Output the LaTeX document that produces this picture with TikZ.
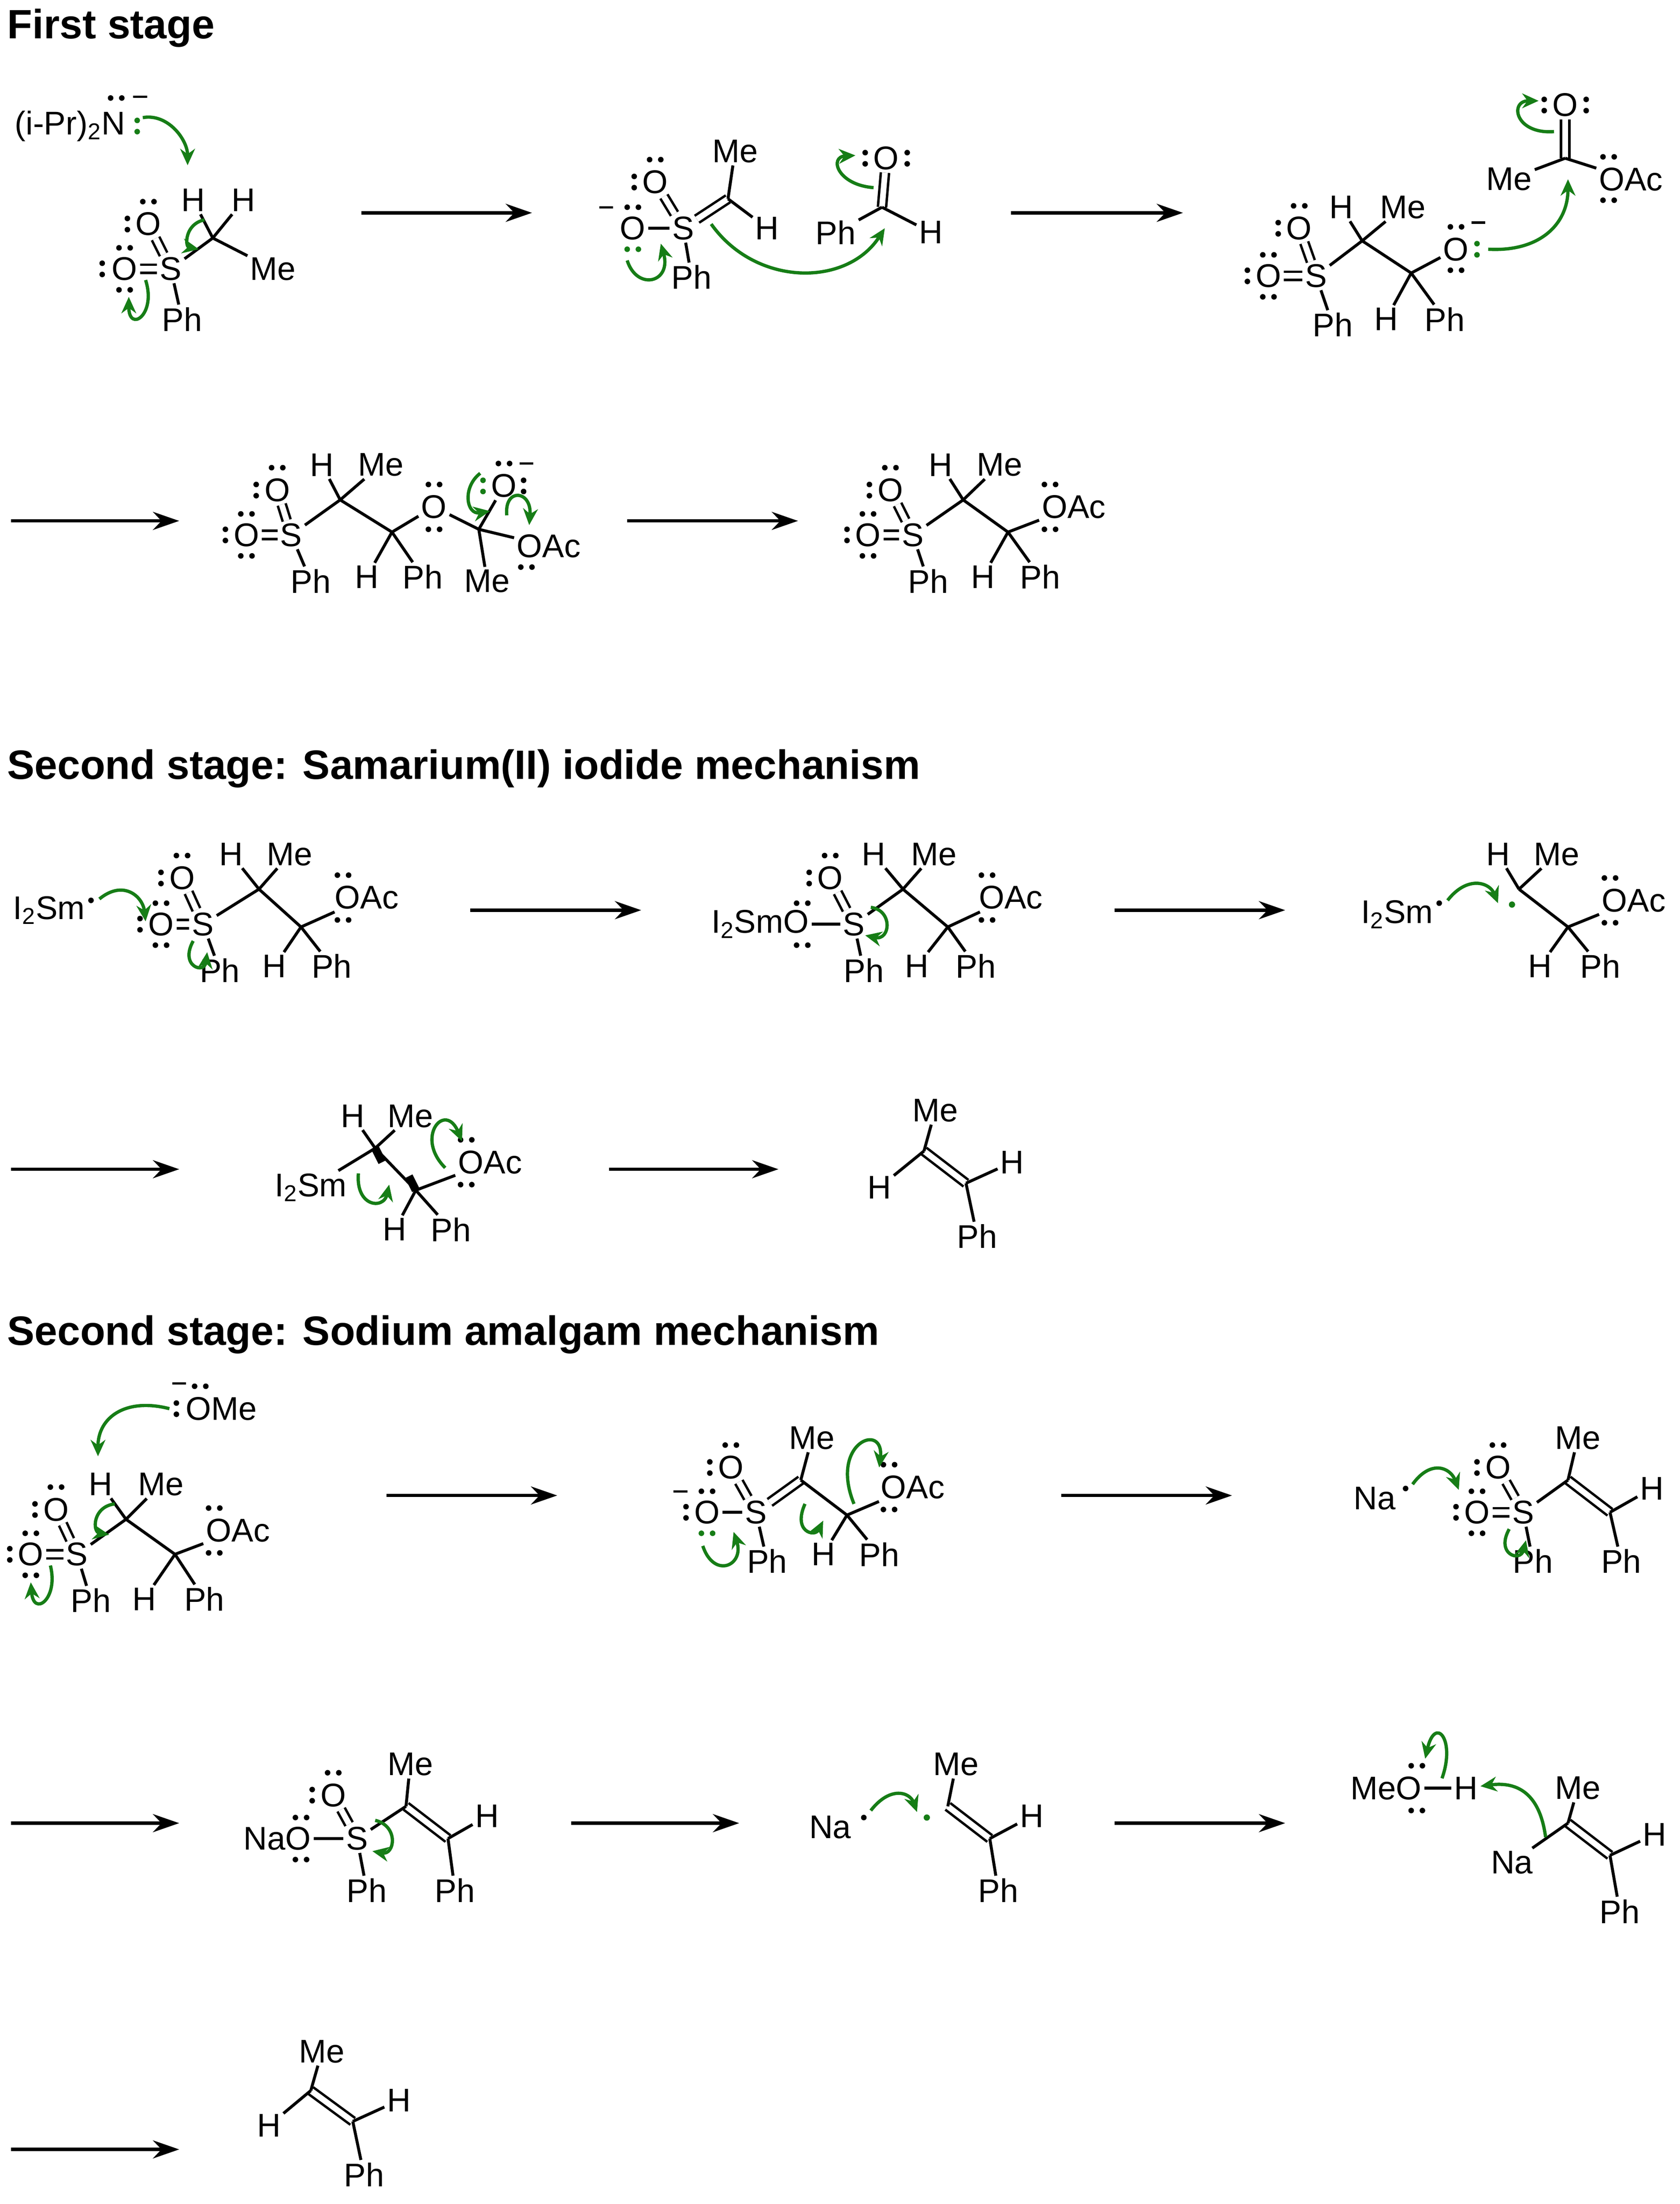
\documentclass[tikz,border=0pt]{standalone}
\usepackage{fontspec}
\setmainfont{Liberation Sans}
\usetikzlibrary{arrows.meta}
\definecolor{pushgreen}{RGB}{22,125,22}
\newcommand\chemf{\fontsize{20}{23}\selectfont}
\newcommand\lpv[2][black]{\fill[#1,shift={(#2)}] (0,-4) circle (1.7pt) (0,4) circle (1.7pt);}
\newcommand\lph[2][black]{\fill[#1,shift={(#2)}] (-4,0) circle (1.7pt) (4,0) circle (1.7pt);}
\newcommand\minus[1]{\draw[line width=1.4pt,shift={(#1)}] (-5,0) -- (5,0);}
\begin{document}
\begin{tikzpicture}
  [x=0.03cm,y=-0.03cm,
   atom/.style={inner sep=1.5pt,font=\chemf},
   title/.style={anchor=west,inner sep=0pt,font=\fontsize{25}{28}\selectfont\bfseries},
   bond/.style={line width=1.8pt},
   dbl/.style={line width=1.5pt,double distance=3.5pt,double=white},
   rxn/.style={line width=2pt,-{Stealth[length=16pt,width=11pt]}},
   push/.style={draw=pushgreen,line width=2pt,-{Stealth[length=10pt,width=9pt]}}]
  \useasboundingbox (0,0) rectangle (1200,1574);

  % titles
  \node[title] (t1) at (5,20) {First stage};
  \node[title] (t2) at (5,549) {Second stage: Samarium(II) iodide mechanism};
  \node[title] (t3) at (5,953) {Second stage: Sodium amalgam mechanism};

  % reaction arrows
  \foreach \xa/\xb/\y in {258/380/152, 722/845/152, 8/128/372, 448/570/372,
    336/458/650, 796/918/650, 8/128/835, 435/556/835,
    276/398/1068, 758/880/1068, 8/128/1302, 408/528/1302, 796/918/1302, 8/128/1535}
    \draw[rxn] (\xa,\y) -- (\xb,\y);

  %% first stage, row 1
  \node[atom] (lda) at (50,90) {(i-Pr)\textsubscript{2}N};
  \lph{83,70} \minus{100,69} \lpv[pushgreen]{98,90}
  \draw[push] (102,84) to[out=10,in=90] (134,118);
  \node[atom] (s1) at (122,192) {S};
  \node[atom] (o1a) at (106,160) {O};
  \node[atom] (o1b) at (89,192) {O};
  \node[atom] (ph1) at (130,228) {Ph};
  \coordinate (c1) at (152,170);
  \node[atom] (h1a) at (138,143) {H};
  \node[atom] (h1b) at (174,143) {H};
  \node[atom] (me1) at (195,192) {Me};
  \draw[dbl] (s1) -- (o1a); \draw[dbl] (s1) -- (o1b);
  \draw[bond] (s1) -- (ph1) (s1) -- (c1) (c1) -- (h1a) (c1) -- (h1b) (c1) -- (me1);
  \lpv{91,160} \lph{106,144} \lpv{73,192} \lph{89,177} \lph{89,207}
  \draw[push] (146,157) .. controls (132,160) and (132,176) .. (142,178);
  \draw[push] (104,200) .. controls (112,225) and (92,238) .. (92,212);

  \node[atom] (o2a) at (468,130) {O};
  \node[atom] (o2b) at (452,163) {O};
  \node[atom] (s2) at (488,163) {S};
  \node[atom] (ph2) at (494,198) {Ph};
  \coordinate (c2) at (520,142);
  \node[atom] (me2) at (525,108) {Me};
  \node[atom] (h2) at (548,163) {H};
  \draw[dbl] (s2) -- (o2a); \draw[dbl] (s2) -- (c2);
  \draw[bond] (s2) -- (o2b) (s2) -- (ph2) (c2) -- (me2) (c2) -- (h2);
  \lpv{453,130} \lph{468,114} \minus{433,148} \lph{452,148} \lph[pushgreen]{452,178}
  \node[atom] (o2c) at (633,113) {O};
  \coordinate (c2b) at (630,148);
  \node[atom] (ph2b) at (597,166) {Ph};
  \node[atom] (h2b) at (665,166) {H};
  \draw[dbl] (c2b) -- (o2c); \draw[bond] (c2b) -- (ph2b) (c2b) -- (h2b);
  \lpv{618,113} \lpv{648,113}
  \draw[push] (448,186) .. controls (455,208) and (480,202) .. (472,174);
  \draw[push] (508,160) .. controls (540,205) and (605,205) .. (632,163);
  \draw[push] (624,134) .. controls (598,132) and (592,112) .. (611,111);

  \node[atom] (o3a) at (928,163) {O};
  \node[atom] (o3b) at (906,197) {O};
  \node[atom] (s3) at (940,197) {S};
  \node[atom] (ph3) at (952,232) {Ph};
  \coordinate (c3a) at (973,172);
  \node[atom] (h3a) at (958,148) {H};
  \node[atom] (me3) at (1002,148) {Me};
  \coordinate (c3b) at (1008,195);
  \node[atom] (h3b) at (990,228) {H};
  \node[atom] (ph3b) at (1032,228) {Ph};
  \node[atom] (o3c) at (1040,178) {O};
  \draw[dbl] (s3) -- (o3a); \draw[dbl] (s3) -- (o3b);
  \draw[bond] (s3) -- (ph3) (s3) -- (c3a) (c3a) -- (h3a) (c3a) -- (me3) (c3a) -- (c3b)
    (c3b) -- (h3b) (c3b) -- (ph3b) (c3b) -- (o3c);
  \lpv{913,163} \lph{928,147} \lpv{891,197} \lph{906,182} \lph{906,212}
  \lph{1040,162} \minus{1056,159} \lph{1040,193} \lpv[pushgreen]{1055,178}
  \coordinate (c3c) at (1118,113);
  \node[atom] (o3d) at (1118,75) {O};
  \node[atom] (me3b) at (1078,128) {Me};
  \node[atom] (oac3) at (1165,128) {OAc};
  \draw[dbl] (c3c) -- (o3d); \draw[bond] (c3c) -- (me3b) (c3c) -- (oac3);
  \lpv{1103,75} \lpv{1133,75} \lph{1149,112} \lph{1149,143}
  \draw[push] (1063,178) .. controls (1100,180) and (1120,160) .. (1120,128);
  \draw[push] (1110,94) .. controls (1082,96) and (1078,72) .. (1099,72);

  %% first stage, row 2
  \node[atom] (o4a) at (198,350) {O};
  \node[atom] (o4b) at (176,382) {O};
  \node[atom] (s4) at (208,382) {S};
  \node[atom] (ph4) at (222,415) {Ph};
  \coordinate (c4a) at (243,357);
  \node[atom] (h4a) at (230,332) {H};
  \node[atom] (me4) at (272,332) {Me};
  \coordinate (c4b) at (280,380);
  \node[atom] (h4b) at (262,412) {H};
  \node[atom] (ph4b) at (302,412) {Ph};
  \node[atom] (o4c) at (310,362) {O};
  \coordinate (c4c) at (342,378);
  \node[atom] (o4d) at (360,347) {O};
  \node[atom] (oac4) at (392,390) {OAc};
  \node[atom] (me4b) at (348,415) {Me};
  \draw[dbl] (s4) -- (o4a); \draw[dbl] (s4) -- (o4b);
  \draw[bond] (s4) -- (ph4) (s4) -- (c4a) (c4a) -- (h4a) (c4a) -- (me4) (c4a) -- (c4b)
    (c4b) -- (h4b) (c4b) -- (ph4b) (c4b) -- (o4c) (o4c) -- (c4c) (c4c) -- (o4d)
    (c4c) -- (oac4) (c4c) -- (me4b);
  \lpv{183,350} \lph{198,334} \lpv{161,382} \lph{176,367} \lph{176,397}
  \lph{310,346} \lph{310,378} \lpv[pushgreen]{345,347} \lph{360,331} \minus{376,331}
  \lpv{374,347} \lph{376,405}
  \draw[push] (343,338) .. controls (330,348) and (333,368) .. (350,365);
  \draw[push] (362,368) .. controls (360,348) and (380,350) .. (378,375);

  \node[atom] (o5a) at (636,350) {O};
  \node[atom] (o5b) at (620,382) {O};
  \node[atom] (s5) at (652,382) {S};
  \node[atom] (ph5) at (663,415) {Ph};
  \coordinate (c5a) at (688,357);
  \node[atom] (h5a) at (672,332) {H};
  \node[atom] (me5) at (714,332) {Me};
  \coordinate (c5b) at (720,380);
  \node[atom] (h5b) at (702,412) {H};
  \node[atom] (ph5b) at (743,412) {Ph};
  \node[atom] (oac5) at (767,362) {OAc};
  \draw[dbl] (s5) -- (o5a); \draw[dbl] (s5) -- (o5b);
  \draw[bond] (s5) -- (ph5) (s5) -- (c5a) (c5a) -- (h5a) (c5a) -- (me5) (c5a) -- (c5b)
    (c5b) -- (h5b) (c5b) -- (ph5b) (c5b) -- (oac5);
  \lpv{621,350} \lph{636,334} \lpv{605,382} \lph{620,367} \lph{620,397}
  \lph{750,346} \lph{750,378}

  %% samarium, row 3
  \node[atom] (sm1) at (35,650) {I\textsubscript{2}Sm};
  \fill (65,643) circle (1.7pt);
  \draw[push] (71,642) .. controls (88,628) and (102,640) .. (104,658);
  \node[atom] (o6b) at (115,660) {O};
  \node[atom] (s6) at (145,660) {S};
  \node[atom] (o6a) at (130,627) {O};
  \node[atom] (ph6) at (157,693) {Ph};
  \coordinate (c6a) at (185,635);
  \node[atom] (h6a) at (165,610) {H};
  \node[atom] (me6) at (207,610) {Me};
  \coordinate (c6b) at (215,662);
  \node[atom] (h6b) at (196,690) {H};
  \node[atom] (ph6b) at (237,690) {Ph};
  \node[atom] (oac6) at (262,641) {OAc};
  \draw[dbl] (s6) -- (o6a); \draw[dbl] (s6) -- (o6b);
  \draw[bond] (s6) -- (ph6) (s6) -- (c6a) (c6a) -- (h6a) (c6a) -- (me6) (c6a) -- (c6b)
    (c6b) -- (h6b) (c6b) -- (ph6b) (c6b) -- (oac6);
  \lpv{115,627} \lph{130,611} \lpv{100,660} \lph{115,645} \lph{115,675}
  \lph{245,625} \lph{245,657}
  \draw[push] (138,672) .. controls (128,690) and (146,696) .. (148,680);

  \node[atom] (sm2) at (543,660) {I\textsubscript{2}SmO};
  \node[atom] (s7) at (610,660) {S};
  \node[atom] (o7a) at (593,627) {O};
  \node[atom] (ph7) at (617,693) {Ph};
  \coordinate (c7a) at (645,635);
  \node[atom] (h7a) at (624,610) {H};
  \node[atom] (me7) at (667,610) {Me};
  \coordinate (c7b) at (677,662);
  \node[atom] (h7b) at (655,690) {H};
  \node[atom] (ph7b) at (697,690) {Ph};
  \node[atom] (oac7) at (722,641) {OAc};
  \draw[dbl] (s7) -- (o7a);
  \draw[bond] (sm2) -- (s7) (s7) -- (ph7) (s7) -- (c7a) (c7a) -- (h7a) (c7a) -- (me7)
    (c7a) -- (c7b) (c7b) -- (h7b) (c7b) -- (ph7b) (c7b) -- (oac7);
  \lpv{578,627} \lph{593,611} \lph{573,645} \lph{573,675} \lph{705,625} \lph{705,657}
  \draw[push] (622,648) .. controls (638,650) and (636,672) .. (618,668);

  \node[atom] (sm3) at (998,653) {I\textsubscript{2}Sm};
  \fill (1028,645) circle (1.7pt);
  \draw[push] (1034,643) .. controls (1048,625) and (1064,630) .. (1070,645);
  \coordinate (c8a) at (1085,635);
  \fill[pushgreen] (1080,646) circle (1.9pt);
  \node[atom] (h8a) at (1070,610) {H};
  \node[atom] (me8) at (1112,610) {Me};
  \coordinate (c8b) at (1120,662);
  \node[atom] (h8b) at (1100,690) {H};
  \node[atom] (ph8b) at (1143,690) {Ph};
  \node[atom] (oac8) at (1167,643) {OAc};
  \draw[bond] (c8a) -- (h8a) (c8a) -- (me8) (c8a) -- (c8b) (c8b) -- (h8b) (c8b) -- (ph8b)
    (c8b) -- (oac8);
  \lph{1150,627} \lph{1150,659}

  %% samarium, row 4
  \node[atom] (sm4) at (222,848) {I\textsubscript{2}Sm};
  \coordinate (c9a) at (268,820);
  \node[atom] (h9a) at (252,797) {H};
  \node[atom] (me9) at (293,797) {Me};
  \coordinate (c9b) at (297,850);
  \node[atom] (h9b) at (282,878) {H};
  \node[atom] (ph9b) at (322,878) {Ph};
  \node[atom] (oac9) at (350,830) {OAc};
  \draw[bond] (sm4) -- (c9a) (c9a) -- (h9a) (c9a) -- (me9) (c9a) -- (c9b) (c9b) -- (h9b)
    (c9b) -- (ph9b) (c9b) -- (oac9);
  \draw[line width=5pt] (c9a) -- ++(5,10) (c9b) -- ++(-5,-10);
  \lph{333,814} \lph{333,846}
  \draw[push] (256,838) .. controls (254,862) and (274,864) .. (278,846);
  \draw[push] (318,834) .. controls (296,812) and (318,786) .. (330,815);

  \node[atom] (me10) at (668,793) {Me};
  \coordinate (c10a) at (660,822);
  \coordinate (c10b) at (690,845);
  \node[atom] (h10a) at (628,848) {H};
  \node[atom] (h10b) at (723,830) {H};
  \node[atom] (ph10) at (698,883) {Ph};
  \draw[dbl] (c10a) -- (c10b);
  \draw[bond] (c10a) -- (me10) (c10a) -- (h10a) (c10b) -- (h10b) (c10b) -- (ph10);

  %% sodium, row 5
  \node[atom] (ome) at (158,1006) {OMe};
  \minus{128,988} \lph{143,990} \lpv{126,1006}
  \draw[push] (121,1006) .. controls (90,998) and (70,1012) .. (70,1040);
  \node[atom] (o11b) at (22,1110) {O};
  \node[atom] (s11) at (55,1110) {S};
  \node[atom] (o11a) at (40,1078) {O};
  \node[atom] (ph11) at (65,1143) {Ph};
  \coordinate (c11a) at (90,1085);
  \node[atom] (h11a) at (72,1060) {H};
  \node[atom] (me11) at (115,1060) {Me};
  \coordinate (c11b) at (125,1110);
  \node[atom] (h11b) at (103,1142) {H};
  \node[atom] (ph11b) at (146,1142) {Ph};
  \node[atom] (oac11) at (170,1093) {OAc};
  \draw[dbl] (s11) -- (o11a); \draw[dbl] (s11) -- (o11b);
  \draw[bond] (s11) -- (ph11) (s11) -- (c11a) (c11a) -- (h11a) (c11a) -- (me11)
    (c11a) -- (c11b) (c11b) -- (h11b) (c11b) -- (ph11b) (c11b) -- (oac11);
  \lpv{25,1078} \lph{40,1062} \lpv{7,1110} \lph{22,1095} \lph{22,1125}
  \lph{153,1077} \lph{153,1109}
  \draw[push] (82,1074) .. controls (66,1076) and (66,1094) .. (78,1096);
  \draw[push] (36,1118) .. controls (42,1142) and (24,1155) .. (22,1130);

  \node[atom] (o12b) at (505,1080) {O};
  \node[atom] (s12) at (540,1080) {S};
  \node[atom] (o12a) at (522,1048) {O};
  \node[atom] (ph12) at (548,1115) {Ph};
  \coordinate (c12a) at (572,1057);
  \node[atom] (me12) at (580,1027) {Me};
  \coordinate (c12b) at (605,1082);
  \node[atom] (h12b) at (588,1110) {H};
  \node[atom] (ph12b) at (628,1110) {Ph};
  \node[atom] (oac12) at (652,1062) {OAc};
  \draw[dbl] (s12) -- (o12a); \draw[dbl] (s12) -- (c12a);
  \draw[bond] (s12) -- (o12b) (s12) -- (ph12) (c12a) -- (me12) (c12a) -- (c12b)
    (c12b) -- (h12b) (c12b) -- (ph12b) (c12b) -- (oac12);
  \lpv{507,1048} \lph{522,1032} \minus{486,1065} \lph{505,1065} \lpv{490,1080}
  \lph[pushgreen]{505,1095} \lph{635,1046} \lph{635,1078}
  \draw[push] (502,1104) .. controls (510,1128) and (532,1118) .. (524,1094);
  \draw[push] (575,1074) .. controls (566,1094) and (582,1098) .. (588,1086);
  \draw[push] (610,1074) .. controls (592,1030) and (632,1015) .. (628,1048);

  \node[atom] (na1) at (982,1070) {Na};
  \fill (1004,1063) circle (1.7pt);
  \draw[push] (1009,1060) .. controls (1022,1042) and (1036,1048) .. (1042,1064);
  \node[atom] (o13b) at (1055,1080) {O};
  \node[atom] (s13) at (1088,1080) {S};
  \node[atom] (o13a) at (1070,1048) {O};
  \node[atom] (ph13) at (1095,1115) {Ph};
  \coordinate (c13a) at (1120,1057);
  \node[atom] (me13) at (1127,1027) {Me};
  \coordinate (c13b) at (1150,1080);
  \node[atom] (h13b) at (1180,1063) {H};
  \node[atom] (ph13b) at (1158,1115) {Ph};
  \draw[dbl] (s13) -- (o13a); \draw[dbl] (s13) -- (o13b); \draw[dbl] (c13a) -- (c13b);
  \draw[bond] (s13) -- (ph13) (s13) -- (c13a) (c13a) -- (me13) (c13b) -- (h13b)
    (c13b) -- (ph13b);
  \lpv{1055,1048} \lph{1070,1032} \lpv{1040,1080} \lph{1055,1065} \lph{1055,1095}
  \draw[push] (1078,1092) .. controls (1068,1110) and (1086,1116) .. (1090,1100);

  %% sodium, row 6
  \node[atom] (nao) at (198,1313) {NaO};
  \node[atom] (s14) at (255,1313) {S};
  \node[atom] (o14a) at (238,1282) {O};
  \node[atom] (ph14) at (262,1350) {Ph};
  \coordinate (c14a) at (290,1290);
  \node[atom] (me14) at (293,1260) {Me};
  \coordinate (c14b) at (320,1313);
  \node[atom] (h14b) at (348,1297) {H};
  \node[atom] (ph14b) at (325,1350) {Ph};
  \draw[dbl] (s14) -- (o14a); \draw[dbl] (c14a) -- (c14b);
  \draw[bond] (nao) -- (s14) (s14) -- (ph14) (s14) -- (c14a) (c14a) -- (me14)
    (c14b) -- (h14b) (c14b) -- (ph14b);
  \lpv{223,1282} \lph{238,1266} \lph{215,1298} \lph{215,1328}
  \draw[push] (268,1300) .. controls (285,1304) and (282,1325) .. (266,1322);

  \node[atom] (na2) at (593,1305) {Na};
  \fill (617,1298) circle (1.7pt);
  \draw[push] (622,1293) .. controls (636,1275) and (650,1280) .. (655,1294);
  \fill[pushgreen] (662,1298) circle (1.9pt);
  \coordinate (c15a) at (677,1290);
  \node[atom] (me15) at (683,1260) {Me};
  \coordinate (c15b) at (707,1313);
  \node[atom] (h15b) at (737,1297) {H};
  \node[atom] (ph15b) at (713,1350) {Ph};
  \draw[dbl] (c15a) -- (c15b);
  \draw[bond] (c15a) -- (me15) (c15b) -- (h15b) (c15b) -- (ph15b);

  \node[atom] (meo) at (990,1277) {MeO};
  \node[atom] (h16) at (1047,1277) {H};
  \draw[bond] (meo) -- (h16);
  \lph{1012,1261} \lph{1012,1293}
  \draw[push] (1030,1270) .. controls (1040,1242) and (1025,1225) .. (1018,1256);
  \node[atom] (na3) at (1080,1330) {Na};
  \coordinate (c16a) at (1120,1302);
  \node[atom] (me16) at (1127,1277) {Me};
  \coordinate (c16b) at (1150,1325);
  \node[atom] (h16b) at (1182,1310) {H};
  \node[atom] (ph16b) at (1157,1365) {Ph};
  \draw[dbl] (c16a) -- (c16b);
  \draw[bond] (na3) -- (c16a) (c16a) -- (me16) (c16b) -- (h16b) (c16b) -- (ph16b);
  \draw[push] (1104,1312) .. controls (1100,1282) and (1085,1272) .. (h16);

  %% sodium, row 7
  \node[atom] (me17) at (230,1465) {Me};
  \coordinate (c17a) at (222,1493);
  \coordinate (c17b) at (252,1515);
  \node[atom] (h17a) at (192,1518) {H};
  \node[atom] (h17b) at (285,1500) {H};
  \node[atom] (ph17) at (260,1553) {Ph};
  \draw[dbl] (c17a) -- (c17b);
  \draw[bond] (c17a) -- (me17) (c17a) -- (h17a) (c17b) -- (h17b) (c17b) -- (ph17);
\end{tikzpicture}
\end{document}
